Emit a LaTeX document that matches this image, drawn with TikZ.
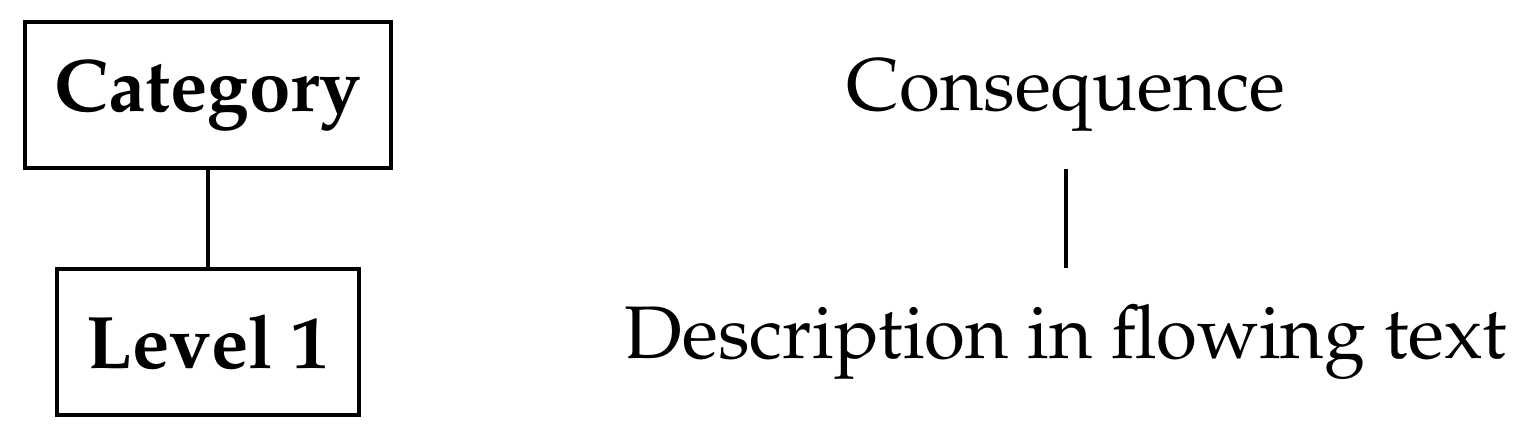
\documentclass[tikz,border=0pt]{standalone}
\usepackage[T1]{fontenc}
\IfFileExists{mathpazo.sty}{\usepackage{mathpazo}}{}
\tikzset{
    levelbox/.style={draw, line width=1pt, minimum height=1.46cm, inner xsep=0.3cm, font=\fontsize{21.2}{25}\selectfont\bfseries},
    plaintext/.style={minimum height=1.46cm, inner sep=0pt, font=\fontsize{21.2}{25}\selectfont},
    link/.style={line width=1pt}
}
\begin{document}
\begin{tikzpicture}

        \useasboundingbox (0,0) rectangle (15.38,4.4);

        %Category
        \node[levelbox] (category) at (2.08,3.45) {Category};
        \node[levelbox] (level) at (2.08,0.98) {Level 1};

        %Consequence
        \node[plaintext] (consequence) at (10.66,3.45) {Consequence};
        \node[plaintext] (description) at (10.66,0.98) {Description in flowing text};

        \draw[link] (category.south) -- (level.north);
        \draw[link] (consequence.south) -- (description.north);
    \end{tikzpicture}
\end{document}
